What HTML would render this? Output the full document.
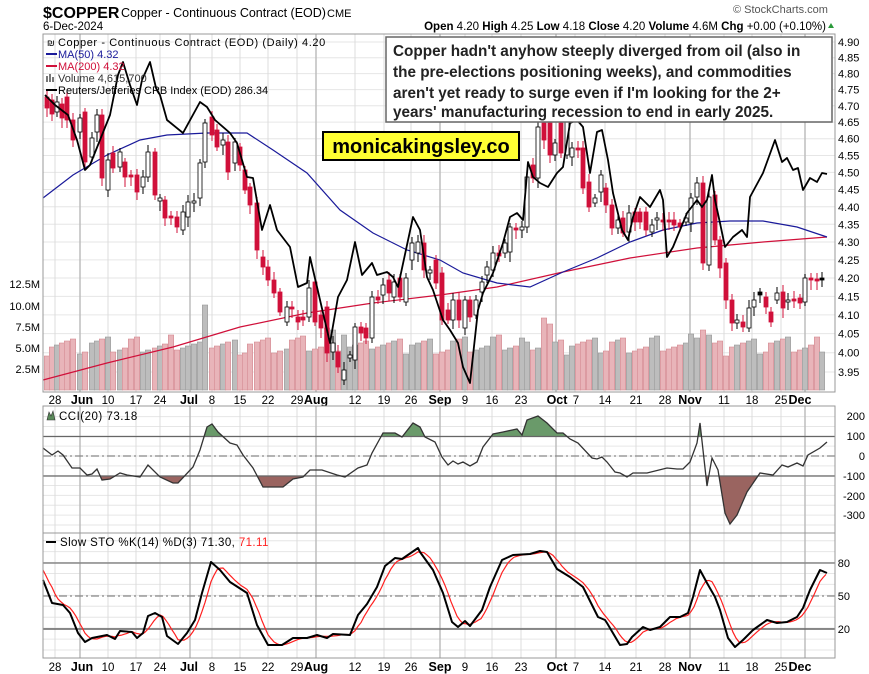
<!DOCTYPE html>
<html><head><meta charset="utf-8"><style>
html,body{margin:0;padding:0;background:#fff;}
svg{display:block;font-family:"Liberation Sans",sans-serif;}
</style></head><body>
<svg id="s" width="869" height="674" viewBox="0 0 869 674" xmlns="http://www.w3.org/2000/svg">
<rect width="869" height="674" fill="#fff"/>
<g id="grid"></g>
<g id="vol"></g>
<g id="plot"></g>
<!-- header -->
<text x="43" y="18" font-size="16" font-weight="bold">$COPPER</text>
<text x="121" y="17" font-size="12.5">Copper - Continuous Contract (EOD)</text>
<text x="327" y="17" font-size="11">CME</text>
<text x="43" y="30" font-size="11.5">6-Dec-2024</text>
<text x="733" y="13" font-size="11" fill="#555">© StockCharts.com</text>
<text x="826" y="30" font-size="11.5" text-anchor="end"><tspan font-weight="bold">Open</tspan> 4.20 <tspan font-weight="bold">High</tspan> 4.25 <tspan font-weight="bold">Low</tspan> 4.18 <tspan font-weight="bold">Close</tspan> 4.20 <tspan font-weight="bold">Volume</tspan> 4.6M <tspan font-weight="bold">Chg</tspan> +0.00 (+0.10%)</text>
<polygon points="828,28 834,28 831,23" fill="#2a9a3a"/>
</svg>
<script>
const S=document.getElementById('s');
const NS='http://www.w3.org/2000/svg';
function el(parent,tag,attrs,txt){const e=document.createElementNS(NS,tag);for(const k in attrs)e.setAttribute(k,attrs[k]);if(txt!==undefined)e.textContent=txt;(typeof parent==='string'?document.getElementById(parent):parent).appendChild(e);return e;}
const L=43,R=835;
const panels=[[34,392],[406,533],[533,658]];
const weeks=[55,108,136,160,212,240,268,297,355,384,411,465,492,521,575,605,636,665,724,752,781];
const months=[80,190,316,440,556,690,805];
const g='grid';
for(let p=3.95;p<=4.901;p+=0.05){const y=42+(Math.log(4.9)-Math.log(p))*1531;el(g,'line',{x1:L,x2:R,y1:y,y2:y,stroke:'#e6e6e6'});
 el(S,'text',{x:838,y:y+4,'font-size':11},p.toFixed(2));}
for(let v=-350;v<=250;v+=50){const y=456-v*0.197;if(y<407||y>532)continue;el(g,'line',{x1:L,x2:R,y1:y,y2:y,stroke:'#e6e6e6'});}
for(let v=0;v<=100;v+=10){const y=650-v*1.093;if(y<534)continue;el(g,'line',{x1:L,x2:R,y1:y,y2:y,stroke:'#e6e6e6'});}
for(const x of weeks)for(const [a,b] of panels)el(g,'line',{x1:x,x2:x,y1:a,y2:b,stroke:'#dcdcdc'});
for(const x of months)for(const [a,b] of panels)el(g,'line',{x1:x,x2:x,y1:a,y2:b,stroke:'#bdbdbd','stroke-width':1.5});
const lab=[[55,'28'],[82,'Jun',1],[108,'10'],[136,'17'],[160,'24'],[189,'Jul',1],[212,'8'],[240,'15'],[268,'22'],[297,'29'],[316,'Aug',1],[355,'12'],[384,'19'],[411,'26'],[440,'Sep',1],[465,'9'],[492,'16'],[521,'23'],[557,'Oct',1],[576,'7'],[605,'14'],[636,'21'],[665,'28'],[690,'Nov',1],[724,'11'],[752,'18'],[781,'25'],[800,'Dec',1]];
for(const yy of [404,671])for(const [x,t,b] of lab)el(S,'text',{x:x,y:yy,'font-size':b?12.5:11.5,'font-weight':b?'bold':'normal','text-anchor':'middle'},t);
[['12.5M',284],['10.0M',306],['7.5M',327],['5.0M',348],['2.5M',369]].forEach(([t,y])=>el(S,'text',{x:40,y:y+4,'font-size':11,'text-anchor':'end'},t));
[[200,416],[100,436],[0,456],[-100,476],[-200,496],[-300,515]].forEach(([v,y])=>el(S,'text',{x:865,y:y+4,'font-size':11,'text-anchor':'end'},String(v)));
[[80,563],[50,596],[20,629]].forEach(([v,y])=>el(S,'text',{x:850,y:y+4,'font-size':11,'text-anchor':'end'},String(v)));

const C=[[47,97,108,'r'],[52,100,114,'r'],[57,102,112,'w'],[62,104,118,'r'],[67,97,120,'r'],[73,120,140,'r'],[80,118,132,'w'],[85,112,162,'r'],[92,138,157,'w'],[97,115,132,'w'],[102,115,178,'r'],[108,160,190,'w'],[113,153,168,'r'],[120,152,167,'w'],[125,162,177,'r'],[131,175,177,'r'],[137,175,192,'r'],[143,177,187,'w'],[148,152,177,'w'],[155,152,195,'r'],[160,198,201,'w'],[165,200,218,'r'],[171,216,218,'r'],[177,217,227,'r'],[183,212,230,'w'],[188,202,217,'w'],[194,201,203,'w'],[200,163,198,'w'],[205,123,162,'w'],[212,117,135,'r'],[217,130,147,'r'],[223,140,145,'w'],[228,142,172,'r'],[235,142,163,'w'],[240,147,165,'r'],[245,170,190,'r'],[250,187,205,'r'],[257,203,250,'r'],[263,257,267,'r'],[268,267,280,'r'],[274,280,293,'r'],[280,292,312,'r'],[287,307,322,'w'],[292,307,309,'r'],[298,317,322,'r'],[303,317,320,'r'],[309,288,317,'w'],[315,282,322,'r'],[321,315,328,'r'],[327,307,353,'r'],[333,343,352,'w'],[338,352,367,'r'],[344,370,380,'w'],[350,355,358,'w'],[355,327,360,'w'],[361,327,333,'r'],[366,328,338,'r'],[372,297,338,'w'],[378,297,300,'r'],[383,285,295,'w'],[389,280,293,'r'],[394,282,297,'w'],[400,278,297,'r'],[406,278,302,'w'],[412,243,260,'w'],[418,242,253,'w'],[424,243,270,'r'],[430,270,273,'w'],[436,260,283,'r'],[442,273,320,'r'],[448,310,320,'r'],[453,300,320,'w'],[459,300,320,'r'],[465,300,328,'w'],[470,300,317,'r'],[476,300,315,'w'],[482,282,292,'w'],[487,267,275,'w'],[493,253,270,'w'],[499,253,256,'r'],[505,243,253,'w'],[510,227,252,'w'],[516,228,230,'r'],[522,227,230,'w'],[527,177,227,'w'],[533,165,178,'r'],[538,127,178,'w'],[544,123,140,'r'],[550,123,155,'r'],[555,143,155,'w'],[561,123,153,'r'],[567,122,155,'w'],[572,148,157,'w'],[578,148,150,'r'],[583,148,188,'r'],[589,182,207,'r'],[595,198,203,'w'],[601,175,192,'w'],[606,188,205,'r'],[612,205,228,'r'],[618,220,228,'w'],[623,218,233,'r'],[629,213,232,'w'],[635,212,222,'r'],[640,212,222,'r'],[646,212,230,'r'],[652,225,232,'w'],[657,218,220,'w'],[663,220,222,'r'],[669,220,222,'r'],[674,220,225,'r'],[680,223,227,'r'],[686,218,222,'w'],[691,198,223,'w'],[697,183,197,'w'],[703,183,263,'r'],[709,197,265,'w'],[715,195,240,'r'],[720,240,268,'r'],[726,263,300,'r'],[732,300,323,'r'],[737,320,323,'w'],[743,322,327,'r'],[749,308,328,'w'],[754,300,307,'w'],[760,292,295,'k'],[766,297,307,'r'],[771,312,322,'r'],[777,293,300,'w'],[783,292,308,'r'],[788,300,302,'w'],[794,299,301,'r'],[800,298,303,'r'],[805,278,302,'w'],[811,278,280,'r'],[817,279,281,'r'],[822,278,280,'k']];
const spikes={205:85,333:60,344:55,542:72,530:68,549:66,703:60,709:55,697:52,326:62,524:52,810:45};
C.forEach((c,i)=>{let h=34+((i*37)%17)+((i*13)%7);for(const k in spikes)if(Math.abs(k-c[0])<3)h=spikes[k];
 const red=c[3]==='r';el('vol','rect',{x:c[0]-2.7,y:390-h,width:5.4,height:h,fill:red?'#e8b4b9':'#bdbdbd',stroke:red?'#d48a92':'#9a9a9a','stroke-width':0.6});});
function pl(pts,attrs){el('plot','polyline',Object.assign({points:pts.map(p=>p.join(',')).join(' '),fill:'none'},attrs));}
pl([[43,380],[107,363],[173,347],[240,327],[307,313],[373,303],[440,295],[497,287],[563,272],[630,258],[697,248],[763,242],[827,237]],{stroke:'#d0103a','stroke-width':1.2});
pl([[43,198],[73,175],[107,155],[140,140],[167,135],[207,133],[247,133],[273,150],[307,173],[340,210],[373,233],[407,250],[440,260],[463,273],[497,283],[530,287],[563,272],[597,258],[630,242],[663,230],[697,223],[730,221],[763,221],[797,227],[827,237]],{stroke:'#1a1a9a','stroke-width':1.2});
C.forEach(c=>{const [x,a,b,t]=c;const top=Math.min(a,b),bot=Math.max(a,b);const col=t==='r'?'#d0103a':'#000';
 el('plot','line',{x1:x,x2:x,y1:top-4-(x%5),y2:bot+4+(x%7),stroke:col,'stroke-width':1});
 el('plot','rect',{x:x-2,y:top,width:4,height:Math.max(bot-top,1),fill:t==='r'?'#d0103a':(t==='k'?'#000':'#fff'),stroke:col,'stroke-width':0.8});});
pl([[45,95],[55,105],[68,115],[77,140],[85,170],[90,165],[100,140],[110,115],[118,75],[123,62],[130,85],[137,105],[142,80],[150,62],[156,88],[160,95],[167,120],[183,133],[200,102],[207,107],[215,120],[230,133],[237,143],[247,177],[253,178],[262,230],[270,205],[277,230],[290,247],[298,287],[307,283],[310,257],[317,287],[330,343],[338,297],[347,280],[355,242],[362,275],[372,263],[377,275],[387,272],[393,277],[398,287],[413,217],[420,230],[427,277],[433,290],[443,320],[450,330],[458,343],[463,367],[470,383],[478,310],[483,293],[493,273],[503,243],[510,217],[517,213],[523,220],[528,162],[533,177],[540,183],[548,187],[557,173],[563,167],[570,123],[577,120],[583,127],[590,173],[597,132],[602,130],[608,160],[613,193],[622,230],[628,240],[633,217],[640,197],[650,207],[660,190],[663,200],[667,257],[673,247],[687,213],[697,200],[702,207],[707,200],[712,175],[715,200],[720,223],[725,247],[733,237],[742,230],[747,237],[750,197],[763,173],[775,140],[782,162],[787,158],[793,170],[798,168],[803,190],[810,178],[817,182],[822,173],[827,174]],{stroke:'#000','stroke-width':1.8,'stroke-linejoin':'round'});
const cci=[[43,448],[52,455],[58,451],[63,455],[72,468],[80,468],[87,475],[92,474],[97,469],[102,480],[110,479],[120,473],[127,475],[140,477],[148,465],[160,477],[173,483],[178,483],[193,467],[200,450],[207,427],[212,424],[218,432],[230,443],[237,445],[243,455],[253,468],[263,487],[283,487],[293,479],[303,477],[310,470],[322,470],[337,475],[345,477],[358,468],[367,465],[372,453],[383,433],[395,433],[402,437],[413,423],[420,427],[425,437],[435,442],[442,457],[448,465],[453,461],[458,464],[463,462],[470,466],[477,462],[483,447],[493,434],[503,432],[517,429],[522,435],[527,420],[538,416],[547,423],[557,433],[563,433],[570,439],[578,443],[592,458],[597,459],[602,457],[607,462],[615,472],[620,473],[627,477],[633,473],[647,473],[667,468],[677,469],[683,469],[690,462],[697,443],[700,423],[707,486],[712,458],[718,470],[725,513],[730,524],[737,515],[747,492],[760,473],[773,475],[782,465],[788,467],[797,463],[803,466],[808,455],[820,448],[827,442]];
const defs=el(S,'defs',{});
const c1=el(defs,'clipPath',{id:'up'});el(c1,'rect',{x:0,y:0,width:869,height:436.5});
const c2=el(defs,'clipPath',{id:'dn'});el(c2,'rect',{x:0,y:476,width:869,height:100});
const ptsStr=cci.map(p=>p.join(',')).join(' ');
el('plot','polygon',{points:'43,436.5 '+ptsStr+' 827,436.5',fill:'#6a9a6a','clip-path':'url(#up)'});
el('plot','polygon',{points:'43,476 '+ptsStr+' 827,476',fill:'#9a6460','clip-path':'url(#dn)'});
[[436.5,'#666',''],[456,'#888','8,3,2,3'],[476,'#666','']].forEach(([y,c,d])=>el('plot','line',{x1:L,x2:R,y1:y,y2:y,stroke:c,'stroke-width':1.3,'stroke-dasharray':d}));
[[563,'#888',''],[596,'#888','8,3,2,3'],[629,'#666','']].forEach(([y,c,d])=>el('plot','line',{x1:L,x2:R,y1:y,y2:y,stroke:c,'stroke-width':d?1.3:1.6,'stroke-dasharray':d}));
pl(cci,{stroke:'#333','stroke-width':1.3});
const K=[[43,580],[52,603],[63,605],[70,613],[78,633],[85,642],[92,638],[107,635],[115,639],[120,631],[132,632],[137,638],[143,633],[148,616],[155,613],[162,617],[167,636],[178,644],[187,633],[195,620],[202,593],[211,562],[220,570],[230,582],[247,593],[257,625],[268,645],[282,645],[293,638],[307,638],[317,635],[327,638],[333,634],[350,635],[358,615],[367,604],[377,587],[385,566],[395,558],[402,559],[418,548],[420,552],[433,570],[443,593],[452,622],[458,627],[465,621],[470,626],[482,610],[490,587],[502,560],[513,555],[530,554],[540,551],[547,552],[557,569],[570,577],[583,587],[598,617],[605,620],[607,623],[620,645],[627,644],[632,637],[643,627],[650,630],[660,627],[670,617],[680,617],[688,613],[693,597],[700,570],[707,583],[715,597],[720,610],[728,638],[735,647],[743,640],[753,630],[767,620],[777,623],[787,622],[797,617],[803,608],[810,590],[820,570],[827,573]];
function kAt(x){if(x<=K[0][0])return K[0][1]-10;for(let i=1;i<K.length;i++)if(x<=K[i][0]){const [x0,y0]=K[i-1],[x1,y1]=K[i];return y0+(y1-y0)*(x-x0)/(x1-x0);}return K[K.length-1][1];}
const D=[];for(let x=43;x<=827;x+=3){D.push([x,(kAt(x)+kAt(x-5.6)+kAt(x-11.2))/3]);}
pl(D,{stroke:'#ff2020','stroke-width':1.2});
pl(K,{stroke:'#000','stroke-width':2,'stroke-linejoin':'round'});
for(const [a,b] of panels)el(S,'rect',{x:L,y:a,width:R-L,height:b-a,fill:'none',stroke:'#999'});
el(S,'polygon',{points:'47,420 49,412 51,416 53,411 55,420',fill:'#5a8a5a',stroke:'#333','stroke-width':0.6});
el(S,'text',{x:59,y:420,'font-size':11.5,'letter-spacing':0.5},'CCI(20) 73.18');
el(S,'line',{x1:46,x2:56,y1:542,y2:542,stroke:'#000','stroke-width':2});
const t=el(S,'text',{x:60,y:546,'font-size':11.5,'letter-spacing':0.4},'Slow STO %K(14) %D(3) 71.30, ');
el(t,'tspan',{fill:'#ff2020'},'71.11');
// legend
const lg=el(S,'g',{'font-size':11});
el(lg,'text',{x:58,y:46,'letter-spacing':0.6},'Copper - Continuous Contract (EOD) (Daily) 4.20');
el(lg,'text',{x:47,y:46,'font-size':9},'₪');
el(lg,'line',{x1:46,y1:54,x2:57,y2:54,stroke:'#1a1a9a','stroke-width':2});el(lg,'text',{x:58,y:58,fill:'#1a1a9a'},'MA(50) 4.32');
el(lg,'line',{x1:46,y1:66,x2:57,y2:66,stroke:'#d0103a','stroke-width':2});el(lg,'text',{x:58,y:70,fill:'#d0103a'},'MA(200) 4.32');
el(lg,'rect',{x:46,y:76,width:2,height:6,fill:'#777'});el(lg,'rect',{x:49,y:74,width:2,height:8,fill:'#777'});el(lg,'rect',{x:52,y:77,width:2,height:5,fill:'#777'});
el(lg,'text',{x:58,y:82,fill:'#333'},'Volume 4,615,700');
el(lg,'line',{x1:46,y1:90,x2:57,y2:90,stroke:'#000','stroke-width':2});el(lg,'text',{x:58,y:94},'Reuters/Jefferies CRB Index (EOD) 286.34');
// annotation
el(S,'rect',{x:386,y:37,width:446,height:85,fill:'#fff',stroke:'#666','stroke-width':1.5});
const an=el(S,'g',{'font-size':15.3,'font-weight':'bold',fill:'#222'});
[["Copper hadn't anyhow steeply diverged from oil (also in",56],["the pre-elections positioning weeks), and commodities",77],["aren't yet ready to surge even if I'm looking for the 2+",98],["years' manufacturing recession to end in early 2025.",117]].forEach(([s,y])=>el(an,'text',{x:393,y:y},s));
el(S,'rect',{x:323,y:132,width:196,height:28,fill:'#ffff33',stroke:'#000','stroke-width':2});
el(S,'text',{x:421,y:153,'font-size':20,'font-weight':'bold','text-anchor':'middle'},'monicakingsley.co');
</script>
</body></html>
